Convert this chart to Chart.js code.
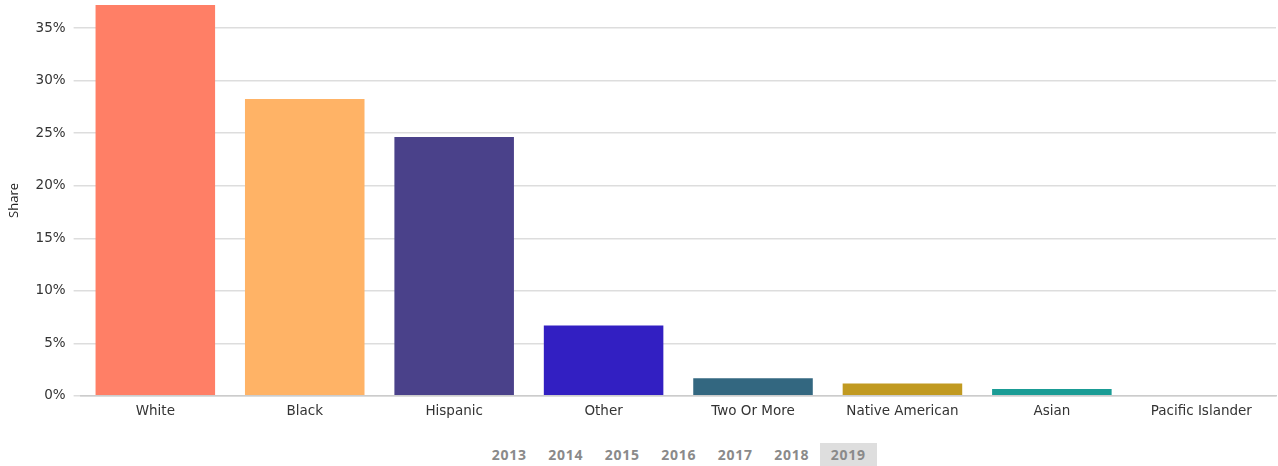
<!DOCTYPE html>
<html>
<head>
<meta charset="utf-8">
<script src="https://cdn.jsdelivr.net/npm/chart.js@4"></script>
<style>
    body { margin: 0; background: #fff; font-family: 'DejaVu Sans', sans-serif; }
    #wrap { position: relative; width: 1278px; height: 466px; overflow: hidden; }
    #chart-box { position: absolute; left: 0; top: -11px; width: 1278px; height: 431px; }
    #years { position: absolute; left: 481px; top: 443px; display: flex; }
    #years span {
        width: 56.5px; height: 23px; line-height: 23px; text-align: center;
        font-size: 14px; font-weight: 700; color: #8a8a8a; letter-spacing: 0.7px;
        font-family: 'Open Sans', sans-serif;
    }
    #years span.active { background: #dedede; }
</style>
</head>
<body>
<div id="wrap">
    <div id="chart-box"><canvas id="share-chart"></canvas></div>
    <div id="years"></div>
</div>
<script>
const categories = ['White', 'Black', 'Hispanic', 'Other', 'Two Or More', 'Native American', 'Asian', 'Pacific Islander'];
const shares = [37.2, 28.25, 24.65, 6.7, 1.66, 1.18, 0.64, 0];
const barColors = ['#ff7f66', '#ffb366', '#4a418a', '#321fc2', '#336780', '#c19a21', '#1a9c95', '#7a9cc6'];
const yTicks = [0, 5, 10, 15, 20, 25, 30, 35];
const years = ['2013', '2014', '2015', '2016', '2017', '2018', '2019'];
const activeYear = '2019';

const yearBox = document.getElementById('years');
years.forEach((y) => {
    const s = document.createElement('span');
    s.textContent = y;
    if (y === activeYear) s.className = 'active';
    yearBox.appendChild(s);
});

const tickFont = { family: 'DejaVu Sans', size: 13.5 };

new Chart(document.getElementById('share-chart'), {
    type: 'bar',
    data: {
        labels: categories,
        datasets: [{
            label: 'Share',
            data: shares,
            backgroundColor: barColors,
            borderWidth: 0,
            categoryPercentage: 1,
            barPercentage: 0.8,
        }],
    },
    options: {
        responsive: true,
        maintainAspectRatio: false,
        animation: false,
        layout: { padding: { top: 5, right: 2, left: 6 } },
        plugins: { legend: { display: false }, tooltip: { enabled: false } },
        scales: {
            x: {
                grid: { display: false },
                border: { color: '#cccccc', width: 1.5 },
                ticks: { color: '#333', font: tickFont, padding: 0, maxRotation: 0 },
            },
            y: {
                min: 0,
                max: Math.max(...shares),
                border: { display: false },
                grid: { color: '#dddddd', lineWidth: 1.5, tickLength: 7, tickColor: '#dddddd' },
                afterBuildTicks: (scale) => {
                    scale.ticks = yTicks.map((value) => ({ value }));
                },
                ticks: {
                    color: '#333',
                    padding: 8,
                    font: tickFont,
                    callback: (v) => v + '%',
                },
                title: {
                    display: true,
                    text: 'Share',
                    color: '#222',
                    font: { family: 'Open Sans', size: 13 },
                    padding: { top: 0, bottom: 6 },
                },
            },
        },
    },
});
</script>
</body>
</html>
